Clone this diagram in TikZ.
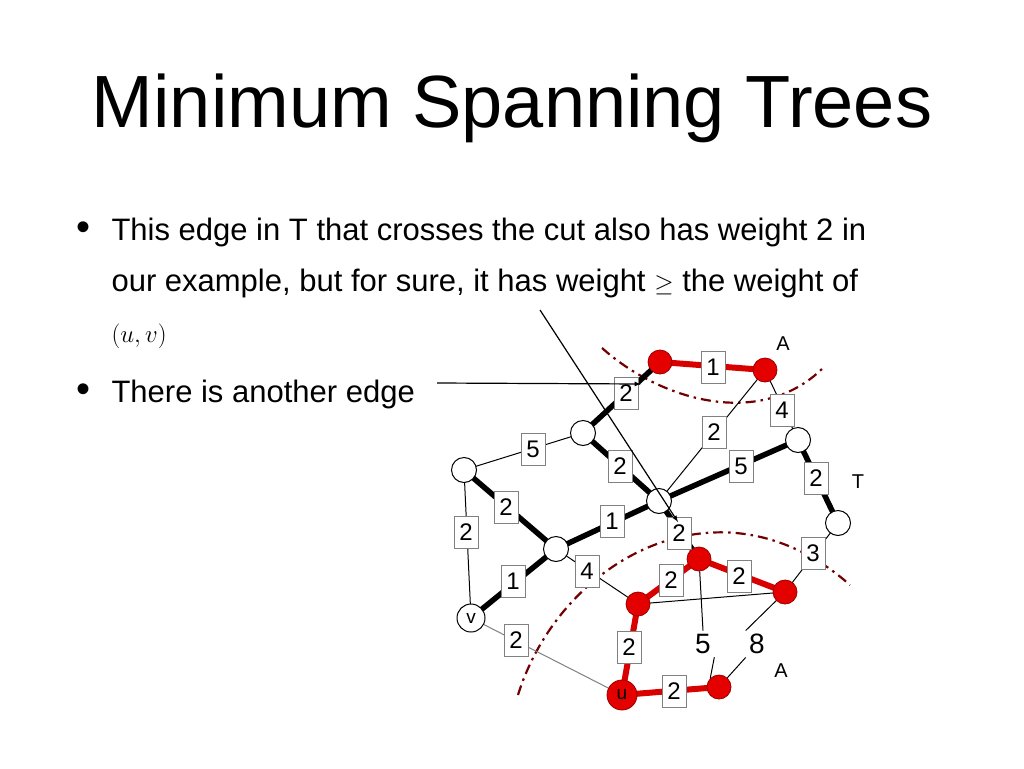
\documentclass[tikz,border=0pt]{standalone}
\usepackage{fontspec}
\setmainfont{Liberation Sans}
\begin{document}
\begin{tikzpicture}[x=1pt,y=-1pt,
  wn/.style={circle,draw,line width=1pt,fill=white,inner sep=0pt,minimum size=25pt},
  rn/.style={circle,draw=red!60!black,line width=0.8pt,fill=red!90!black,inner sep=0pt,minimum size=24pt},
  lb/.style={draw=gray,fill=white,inner sep=2pt,minimum width=24pt,minimum height=32pt,font=\fontsize{24}{24}\selectfont},
  thick/.style={line width=5.5pt},
  thin/.style={line width=1pt},
  red/.style={line width=6pt,draw=red!85!black},
  cut/.style={dash pattern=on 10pt off 5pt on 2.5pt off 5pt,line width=2.2pt,draw=red!45!black}]
\useasboundingbox (0,0) rectangle (1024,768);
\node (title) at (512,108) {\fontsize{74}{74}\selectfont Minimum Spanning Trees};
\node[anchor=base west] (b1) at (73,240) {\fontsize{40}{40}\selectfont\textbullet};
\node[anchor=base west] (t1) at (108,240) {\fontsize{31}{31}\selectfont This edge in T that crosses the cut also has weight 2 in};
\node[anchor=base west] (t2) at (108,291) {\fontsize{31}{31}\selectfont our example, but for sure, it has weight {\fontsize{40}{40}\selectfont$\geq$} the weight of};
\node[anchor=base west] (t3) at (108,342) {\fontsize{36}{36}\selectfont $(u,v)$};
\node[anchor=base west] (b2) at (73,402) {\fontsize{40}{40}\selectfont\textbullet};
\node[anchor=base west] (t4) at (108,402) {\fontsize{31}{31}\selectfont There is another edge};
% cuts
\draw[cut] (602,348) .. controls (660,400) and (760,430) .. (823,368);
\draw[cut] (518,695) .. controls (560,560) and (720,470) .. (850,585);
% coordinates
\coordinate (a1) at (660,362);
\coordinate (a2) at (765,370);
\coordinate (n1) at (583,433);
\coordinate (n2) at (464,470);
\coordinate (c) at (659,501);
\coordinate (r1) at (798,440);
\coordinate (r2) at (838,523);
\coordinate (m) at (556,549);
\coordinate (v) at (471,618);
\coordinate (p1) at (699,559);
\coordinate (p2) at (785,592);
\coordinate (p3) at (638,604);
\coordinate (u) at (622,695);
\coordinate (p4) at (719,687);
% edges
\draw[red] (a1) -- (a2);
\draw[thick] (a1) -- (n1);
\draw[thin] (a2) -- (c);
\draw[thin] (a2) -- (r1);
\draw[thin] (n1) -- (n2);
\draw[thick] (n1) -- (c);
\draw[thick] (c) -- (r1);
\draw[thick] (r1) -- (r2);
\draw[thin] (r2) -- (p2);
\draw[thick] (n2) -- (m);
\draw[thin] (n2) -- (v);
\draw[thick] (m) -- (c);
\draw[thick] (m) -- (v);
\draw[thin] (m) -- (p3);
\draw[thick] (c) -- (p1);
\draw[red] (p1) -- (p2);
\draw[red] (p1) -- (p3);
\draw[thin] (p3) -- (p2);
\draw[red] (p3) -- (u);
\draw[thin,draw=gray] (v) -- (u);
\draw[red] (u) -- (p4);
% nodes
\foreach \n in {a1,a2,p1,p2,p3,p4}{\node[rn] (N\n) at (\n) {};}
\foreach \n in {n1,n2,c,r1,r2,m}{\node[wn] (N\n) at (\n) {};}
\node[wn,minimum size=28pt] (Nv) at (v) {\fontsize{19}{19}\selectfont v};
\node[rn,minimum size=30pt] (Nu) at (u) {\fontsize{19}{19}\selectfont u};
% labels
\node[lb] (l1) at (713,367) {1};
\node[lb] (l2) at (626,393) {2};
\node[lb] (l3) at (714,432) {2};
\node[lb] (l4) at (782,410) {4};
\node[lb] (l5) at (533,449) {5};
\node[lb] (l6) at (620,466) {2};
\node[lb] (l7) at (741,466) {5};
\node[lb] (l8) at (816,478) {2};
\node[lb] (l9) at (813,553) {3};
\node[lb] (l10) at (506,507) {2};
\node[lb] (l11) at (466,532) {2};
\node[lb] (l12) at (612,521) {1};
\node[lb] (l13) at (513,581) {1};
\node[lb] (l14) at (587,571) {4};
\node[lb] (l15) at (679,533) {2};
\node[lb] (l16) at (739,576) {2};
\node[lb] (l17) at (671,580) {2};
\node[lb] (l18) at (629,647) {2};
\node[lb] (l19) at (516,640) {2};
\node[lb] (l20) at (674,691) {2};
% annotations
\node (A1) at (783,344) {\fontsize{20}{20}\selectfont A};
\node (T) at (858,482) {\fontsize{20}{20}\selectfont T};
\node (A2) at (781,671) {\fontsize{20}{20}\selectfont A};
\node (five) at (703,644) {\fontsize{28}{28}\selectfont 5};
\node (eight) at (757,644) {\fontsize{28}{28}\selectfont 8};
\draw[thin] (Np1) -- (five.north);
\draw[thin] (Np2) -- (eight.north west);
\draw[thin] (eight.south west) -- (Np4);
\draw[thin] (five.south east) -- (Np4.north west);
\coordinate (s1) at (437,383);
\coordinate (s2) at (540,310);
\coordinate (e1) at (641,384);
\coordinate (e2) at (678,522);
\draw[line width=1.2pt,-latex] (s1) -- (e1);
\draw[line width=1.2pt,-latex] (s2) -- (e2);
\end{tikzpicture}
\end{document}
